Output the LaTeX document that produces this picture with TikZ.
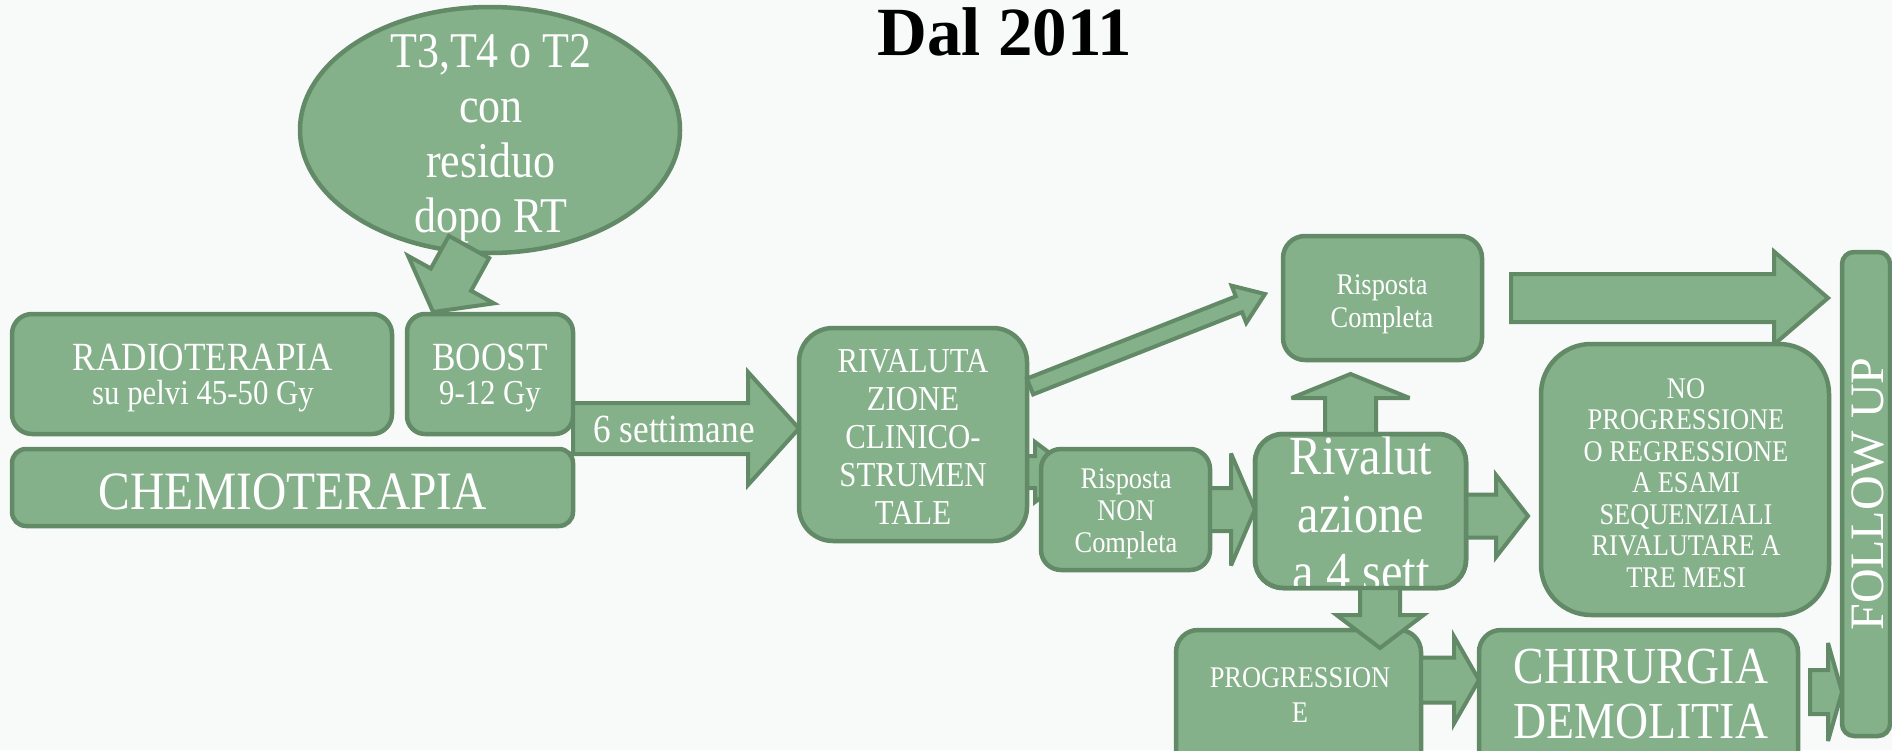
\documentclass[tikz,border=0pt]{standalone}
\usepackage{fontspec}
\setmainfont{Liberation Serif}
\newfontfamily\cf[FakeStretch=0.88]{Liberation Serif}
\usetikzlibrary{calc,shapes.geometric}
\definecolor{gfill}{RGB}{132,176,138}
\definecolor{gbord}{RGB}{98,138,103}
\definecolor{bgc}{RGB}{248,249,249}
\newcommand\setfs[2]{\fontsize{#1pt}{#2pt}\selectfont}
% block arrow: start, tip, half shaft, half head, head length
\newcommand\blockarrow[5]{%
  \path let \p1=($(#2)-(#1)$) in \pgfextra{%
    \pgfmathsetmacro\bktmpa{atan2(\y1,\x1)}\global\let\bkang\bktmpa
    \pgfmathsetmacro\bktmpb{veclen(\x1,\y1)}\global\let\bklen\bktmpb};
  \begin{scope}[shift={(#1)}, rotate=\bkang]
    \draw[blk] (0pt,#3pt) -- ({\bklen pt-#5pt},#3pt) -- ({\bklen pt-#5pt},#4pt)
      -- (\bklen pt,0pt) -- ({\bklen pt-#5pt},-#4pt) -- ({\bklen pt-#5pt},-#3pt)
      -- (0pt,-#3pt) -- cycle;
  \end{scope}}
\begin{document}
\begin{tikzpicture}[x=1pt,y=-1pt,
  box/.style={rectangle, draw=gbord, fill=gfill, line width=4.5pt, rounded corners=#1, inner sep=0pt, outer sep=0pt},
  box/.default=20pt,
  slot/.style={rectangle, inner sep=0pt, outer sep=0pt},
  blk/.style={draw=gbord, fill=gfill, line width=4pt, line join=miter, miter limit=4},
  txt/.style={text=white, align=center, inner sep=0pt}]
\path[use as bounding box] (0,0) rectangle (1892,750);
\clip (0,0) rectangle (1892,750);
\fill[bgc] (0,0) rectangle (1892,750);

\node[anchor=base, inner sep=0pt, font=\bfseries\setfs{69}{72}, text=black] (title) at (1005,55) {Dal 2011};

% ellipse
\node[ellipse, draw=gbord, fill=gfill, line width=4.5pt, inner sep=0pt, outer sep=0pt,
      minimum width=380pt, minimum height=246pt] (ell) at (490,130) {};
\node[txt, anchor=north, font=\cf\setfs{50}{55}] (t-ell) at (491,34) {T3,T4 o T2\\con\\residuo\\dopo RT};

% left boxes
\node[box=20pt, minimum width=380pt, minimum height=120pt] (rad) at (202,374) {};
\node[box=18pt, minimum width=166pt, minimum height=120pt] (boost) at (490,374) {};
\node[box=14pt, minimum width=561pt, minimum height=77pt] (chemo) at (292.5,487.5) {};
\node[txt, anchor=north, font=\cf\setfs{40}{34}] (t-rad) at (203,343.5) {RADIOTERAPIA\\{\setfs{35}{34}su pelvi 45-50 Gy}};
\node[txt, anchor=north, font=\cf\setfs{40}{34}] (t-boost) at (490,343.5) {BOOST\\{\setfs{35}{34}9-12 Gy}};
\node[txt, anchor=base, font=\cf\setfs{54}{54}] (t-chemo) at (293,509) {CHEMIOTERAPIA};

% arrow ellipse -> boost
\coordinate (a1s) at ($(ell.south)+(-21,-6)$);
\coordinate (a1t) at ($(boost.north west)!0.157!(boost.north east)+(0,-2)$);
\blockarrow{a1s}{a1t}{23}{49}{37}

% slots (positions) of the middle boxes
\node[slot, minimum width=228pt, minimum height=213pt] (rival) at (913,434.5) {};
\node[slot, minimum width=169pt, minimum height=121pt] (rnc) at (1125.5,509.5) {};

% tiny arrow rival -> risposta non completa (mostly hidden)
\coordinate (a4s) at ($(rival.east)+(-12,37.5)$);
\coordinate (a4t) at ($(rnc.west)+(34,-37.5)$);
\blockarrow{a4s}{a4t}{16}{30}{40}

% rivalutazione
\draw[box=34pt] (rival.south west) rectangle (rival.north east);
\node[txt, anchor=north, font=\cf\setfs{35}{38}] (t-rival) at (913,349) {RIVALUTA\\ZIONE\\CLINICO-\\STRUMEN\\TALE};

% 6 settimane arrow
\coordinate (a2s) at ($(rival.west -| boost.east)+(0,-6)$);
\coordinate (a2t) at ($(rival.west)+(0,-6)$);
\blockarrow{a2s}{a2t}{25.5}{56.5}{51}
\node[txt, anchor=base, font=\cf\setfs{40}{40}] (t6) at (674,442) {6 settimane};

% risposta completa
\node[box=22pt, minimum width=199pt, minimum height=124pt] (rc) at (1382.5,298) {};
\node[txt, anchor=north, font=\cf\setfs{30}{33}] (t-rc) at (1382,274) {Risposta\\Completa};
% diagonal arrow to risposta completa
\coordinate (a3s) at ($(rival.east)+(3,-48)$);
\coordinate (a3t) at ($(rc.west)+(-18,-4)$);
\blockarrow{a3s}{a3t}{8.5}{20}{28}

% big arrow to follow up
\node[box=12pt, minimum width=48pt, minimum height=484pt] (fu) at (1866,494) {};
\coordinate (a5s) at ($(rc.east)+(29,0)$);
\coordinate (a5t) at ($(fu.west |- rc.east)+(-14,0)$);
\blockarrow{a5s}{a5t}{24}{46.5}{54}

% risposta non completa
\draw[box=20pt] (rnc.south west) rectangle (rnc.north east);
\node[txt, anchor=north, font=\cf\setfs{30}{32}] (t-rnc) at (1126,468) {Risposta\\NON\\Completa};

% rivalutazione a 4 sett
\node[box=28pt, minimum width=211pt, minimum height=154pt] (riv4) at (1360.5,511) {};
\coordinate (a6s) at (rnc.east);
\coordinate (a6t) at (riv4.west |- rnc.east);
\blockarrow{a6s}{a6t}{21.5}{56}{24}
\coordinate (a7s) at ($(riv4.north)+(-10,0)$);
\coordinate (a7t) at ($(rc.south)+(-32,14)$);
\blockarrow{a7s}{a7t}{25.5}{59}{24}

% no progressione
\node[slot, minimum width=288pt, minimum height=271pt] (nop) at (1685,479.5) {};
\coordinate (a8s) at ($(riv4.east)+(0,5)$);
\coordinate (a8t) at ($(nop.west)+(-13,36.5)$);
\blockarrow{a8s}{a8t}{21.5}{41}{32}
\draw[box=50pt] (nop.south west) rectangle (nop.north east);
\node[txt, anchor=north, font=\cf\setfs{30}{31.5}] (t-nop) at (1686,378) {NO\\PROGRESSIONE\\O REGRESSIONE\\A ESAMI\\SEQUENZIALI\\RIVALUTARE A\\TRE MESI};

% progressione
\node[box=22pt, minimum width=245pt, minimum height=150pt] (prog) at (1298.5,705) {};
\node[txt, anchor=north, font=\cf\setfs{30}{35}] (t-prog) at (1300,667) {PROGRESSION\\E};

% text of rivalutazione a 4 sett, clipped to its box
\begin{scope}
  \clip[rounded corners=28pt] (riv4.south west) rectangle (riv4.north east);
  \node[txt, anchor=north, font=\cf\setfs{55}{58}] (t-riv4) at (1361,436) {Rivalut\\azione\\a 4 sett};
\end{scope}
\draw[gbord, line width=4.5pt, rounded corners=28pt] (riv4.south west) rectangle (riv4.north east);
\coordinate (a9s) at ($(riv4.south)+(19.5,0)$);
\coordinate (a9t) at ($(prog.north)+(81.5,18)$);
\blockarrow{a9s}{a9t}{20}{43.5}{33}

% chirurgia
\node[box=22pt, minimum width=319pt, minimum height=150pt] (chir) at (1638.5,705) {};
\coordinate (a10s) at ($(prog.east)+(0,-25)$);
\coordinate (a10t) at (chir.west |- a10s);
\blockarrow{a10s}{a10t}{22.5}{43.5}{25}
\node[txt, anchor=north, font=\cf\setfs{52}{55}] (t-chir) at (1641,649) {CHIRURGIA\\DEMOLITIA};
\coordinate (a11s) at ($(chir.east)+(12,-13)$);
\coordinate (a11t) at (fu.west |- a11s);
\blockarrow{a11s}{a11t}{22}{49}{14}

% follow up text
\node[txt, rotate=90, font=\setfs{48}{48}] (t-fu) at (1868,494) {FOLLOW UP};
\end{tikzpicture}
\end{document}
